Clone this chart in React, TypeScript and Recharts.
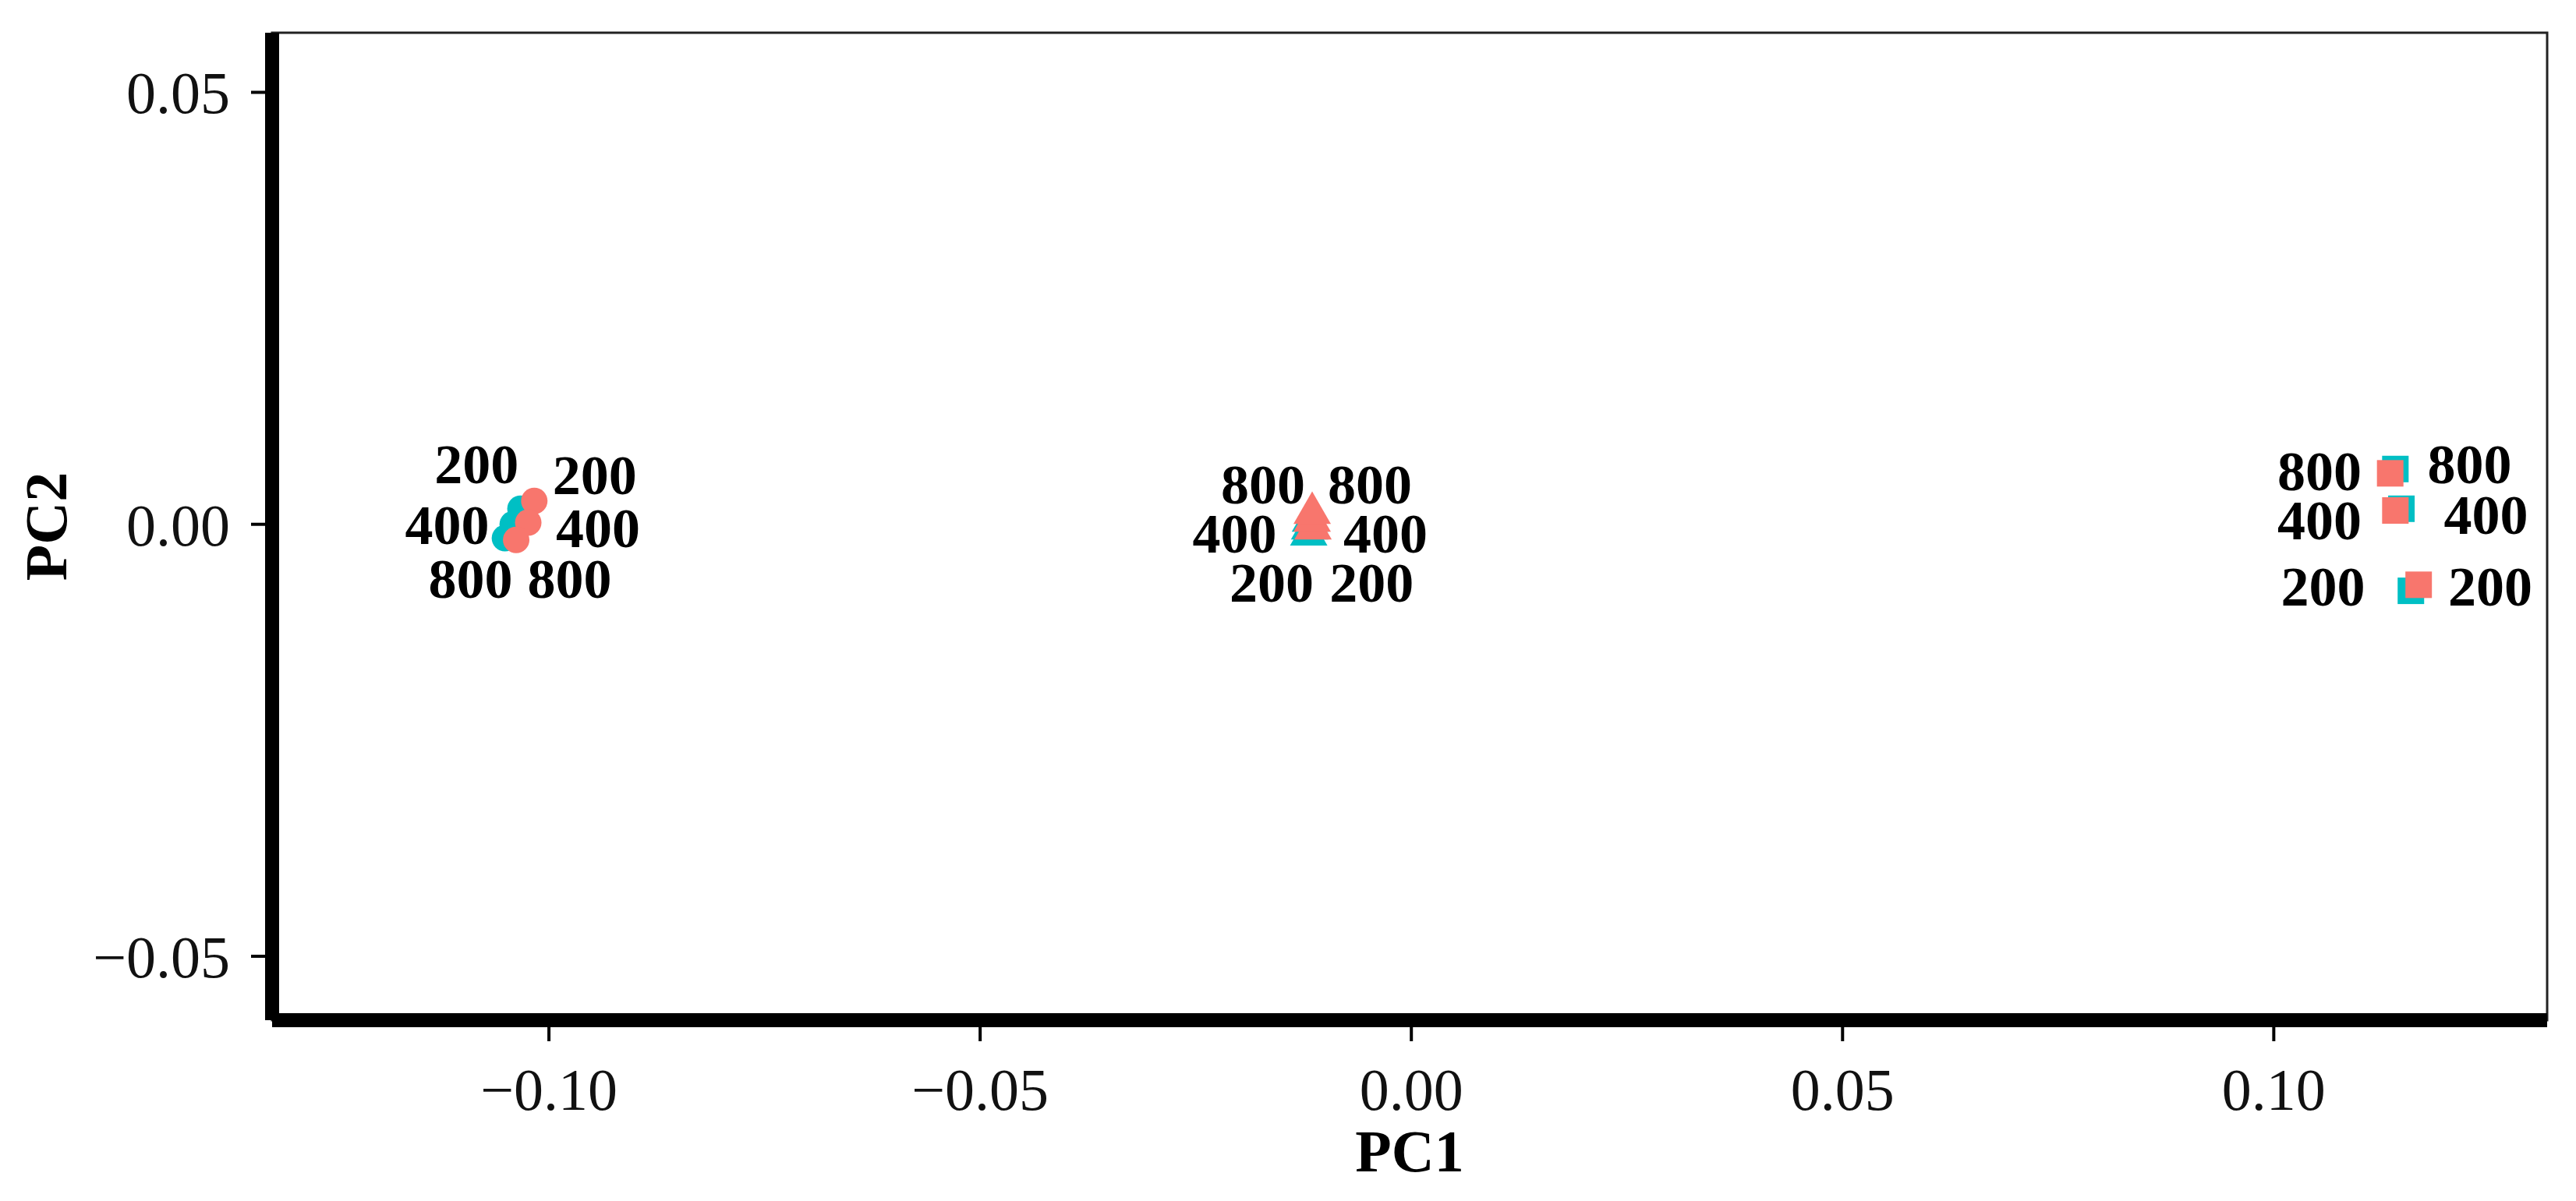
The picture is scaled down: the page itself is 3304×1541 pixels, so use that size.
import { ReferenceArea, Scatter, ScatterChart, XAxis, YAxis, Label } from 'recharts'

// ggplot default two-level palette
const COLORS = {
  red: '#F8766D',
  cyan: '#00BFC4',
} as const

const FONT = '"Liberation Serif", "DejaVu Serif", serif'

const X_DOMAIN: [number, number] = [-0.1321, 0.1317]
const Y_DOMAIN: [number, number] = [-0.0574, 0.0569]
const X_TICKS = [-0.1, -0.05, 0, 0.05, 0.1]
const Y_TICKS = [-0.05, 0, 0.05]

const doses = ['200', '400', '800']

// circles (left cluster)
const circleCyanPC1 = [-0.1033, -0.1042, -0.1051]
const circleCyanPC2 = [0.0018, 0.0, -0.0016]
const circleRedPC1 = [-0.1017, -0.1024, -0.1038]
const circleRedPC2 = [0.0027, 0.0002, -0.0018]

// triangles (middle cluster)
const triCyanPC1 = [-0.0119, -0.0118, -0.0117]
const triCyanPC2 = [-0.0012, -0.0005, 0.0004]
const triRedPC1 = [-0.0114, -0.0115, -0.0115]
const triRedPC2 = [-0.0005, 0.0004, 0.0013]

// squares (right cluster)
const sqCyanPC1 = [0.1159, 0.1148, 0.1141]
const sqCyanPC2 = [-0.0077, 0.0018, 0.0064]
const sqRedPC1 = [0.1168, 0.1141, 0.1135]
const sqRedPC2 = [-0.007, 0.0016, 0.0059]

// repelled text labels
const labelText = [
  '200', '200', '400', '400', '800', '800',
  '800', '800', '400', '400', '200', '200',
  '800', '800', '400', '400', '200', '200',
]
const labelPC1 = [
  -0.1084, -0.0947, -0.1118, -0.0943, -0.1091, -0.0976,
  -0.0172, -0.0048, -0.0205, -0.003, -0.0162, -0.0046,
  0.1053, 0.1227, 0.1053, 0.1246, 0.1057, 0.1251,
]
const labelPC2 = [
  0.0069, 0.0057, -0.0001, -0.0005, -0.0063, -0.0063,
  0.0046, 0.0046, -0.0011, -0.0011, -0.0068, -0.0068,
  0.0061, 0.0069, 0.0004, 0.0011, -0.0072, -0.0072,
]

function toPoints(xs: number[], ys: number[]) {
  return xs.map((x, i) => ({ pc1: x, pc2: ys[i], dose: doses[i] }))
}

const labelData = labelText.map((t, i) => ({ pc1: labelPC1[i], pc2: labelPC2[i], text: t }))

function fmt(v: number) {
  const s = Math.abs(v).toFixed(2)
  return v < 0 ? `\u2212${s}` : s
}

function circleShape(color: string) {
  return (props: any) => <circle cx={props.cx} cy={props.cy} r={17} fill={color} />
}

function triangleShape(color: string) {
  return (props: any) => {
    const { cx, cy } = props
    const s = 48
    const h = s * 0.866
    const d = `M${cx},${cy - (h * 2) / 3} L${cx + s / 2},${cy + h / 3} L${cx - s / 2},${cy + h / 3} Z`
    return <path d={d} fill={color} />
  }
}

function squareShape(color: string) {
  return (props: any) => (
    <rect x={props.cx - 17} y={props.cy - 17} width={34} height={34} fill={color} />
  )
}

function labelShape(props: any) {
  return (
    <text
      x={props.cx}
      y={props.cy}
      textAnchor="middle"
      dominantBaseline="central"
      fontFamily={FONT}
      fontWeight="bold"
      fontSize={72}
      fill="#000"
    >
      {props.payload.text}
    </text>
  )
}

export default function App() {
  return (
    <div style={{ position: 'absolute', left: 0, top: 0, width: 3304, height: 1541, background: '#fff' }}>
      <ScatterChart width={3304} height={1541} margin={{ top: 42, right: 37, bottom: 0, left: 0 }}>
        <XAxis
          type="number"
          dataKey="pc1"
          domain={X_DOMAIN}
          ticks={X_TICKS}
          allowDataOverflow
          height={232}
          tickFormatter={fmt}
          axisLine={{ stroke: '#000', strokeWidth: 18 }}
          tickLine={{ stroke: '#000', strokeWidth: 4 }}
          tickSize={27}
          tickMargin={34}
          tick={{ fill: '#111', fontFamily: FONT, fontSize: 76 }}
        >
          <Label
            value="PC1"
            position="insideBottom"
            offset={38}
            style={{ fontFamily: FONT, fontWeight: 'bold', fontSize: 76, fill: '#000' }}
          />
        </XAxis>
        <YAxis
          type="number"
          dataKey="pc2"
          domain={Y_DOMAIN}
          ticks={Y_TICKS}
          allowDataOverflow
          width={349}
          tickFormatter={fmt}
          axisLine={{ stroke: '#000', strokeWidth: 18 }}
          tickLine={{ stroke: '#000', strokeWidth: 4 }}
          tickSize={27}
          tickMargin={27}
          tick={{ fill: '#111', fontFamily: FONT, fontSize: 76 }}
        >
          <Label
            content={(p: any) => {
              const vb = p.viewBox || { x: 0, y: 42, width: 349, height: 1267 }
              const cy = vb.y + vb.height / 2
              return (
                <text
                  x={59}
                  y={cy}
                  transform={`rotate(-90, 59, ${cy})`}
                  textAnchor="middle"
                  dominantBaseline="central"
                  fontFamily={FONT}
                  fontWeight="bold"
                  fontSize={76}
                  fill="#000"
                >
                  PC2
                </text>
              )
            }}
          />
        </YAxis>
        <ReferenceArea
          x1={X_DOMAIN[0]}
          x2={X_DOMAIN[1]}
          y1={Y_DOMAIN[0]}
          y2={Y_DOMAIN[1]}
          fill="none"
          stroke="#222"
          strokeWidth={3}
          ifOverflow="visible"
        />
        <Scatter data={toPoints(circleCyanPC1, circleCyanPC2)} shape={circleShape(COLORS.cyan)} isAnimationActive={false} />
        <Scatter data={toPoints(triCyanPC1, triCyanPC2)} shape={triangleShape(COLORS.cyan)} isAnimationActive={false} />
        <Scatter data={toPoints(sqCyanPC1, sqCyanPC2)} shape={squareShape(COLORS.cyan)} isAnimationActive={false} />
        <Scatter data={toPoints(circleRedPC1, circleRedPC2)} shape={circleShape(COLORS.red)} isAnimationActive={false} />
        <Scatter data={toPoints(triRedPC1, triRedPC2)} shape={triangleShape(COLORS.red)} isAnimationActive={false} />
        <Scatter data={toPoints(sqRedPC1, sqRedPC2)} shape={squareShape(COLORS.red)} isAnimationActive={false} />
        <Scatter data={labelData} shape={labelShape} isAnimationActive={false} />
      </ScatterChart>
    </div>
  )
}
